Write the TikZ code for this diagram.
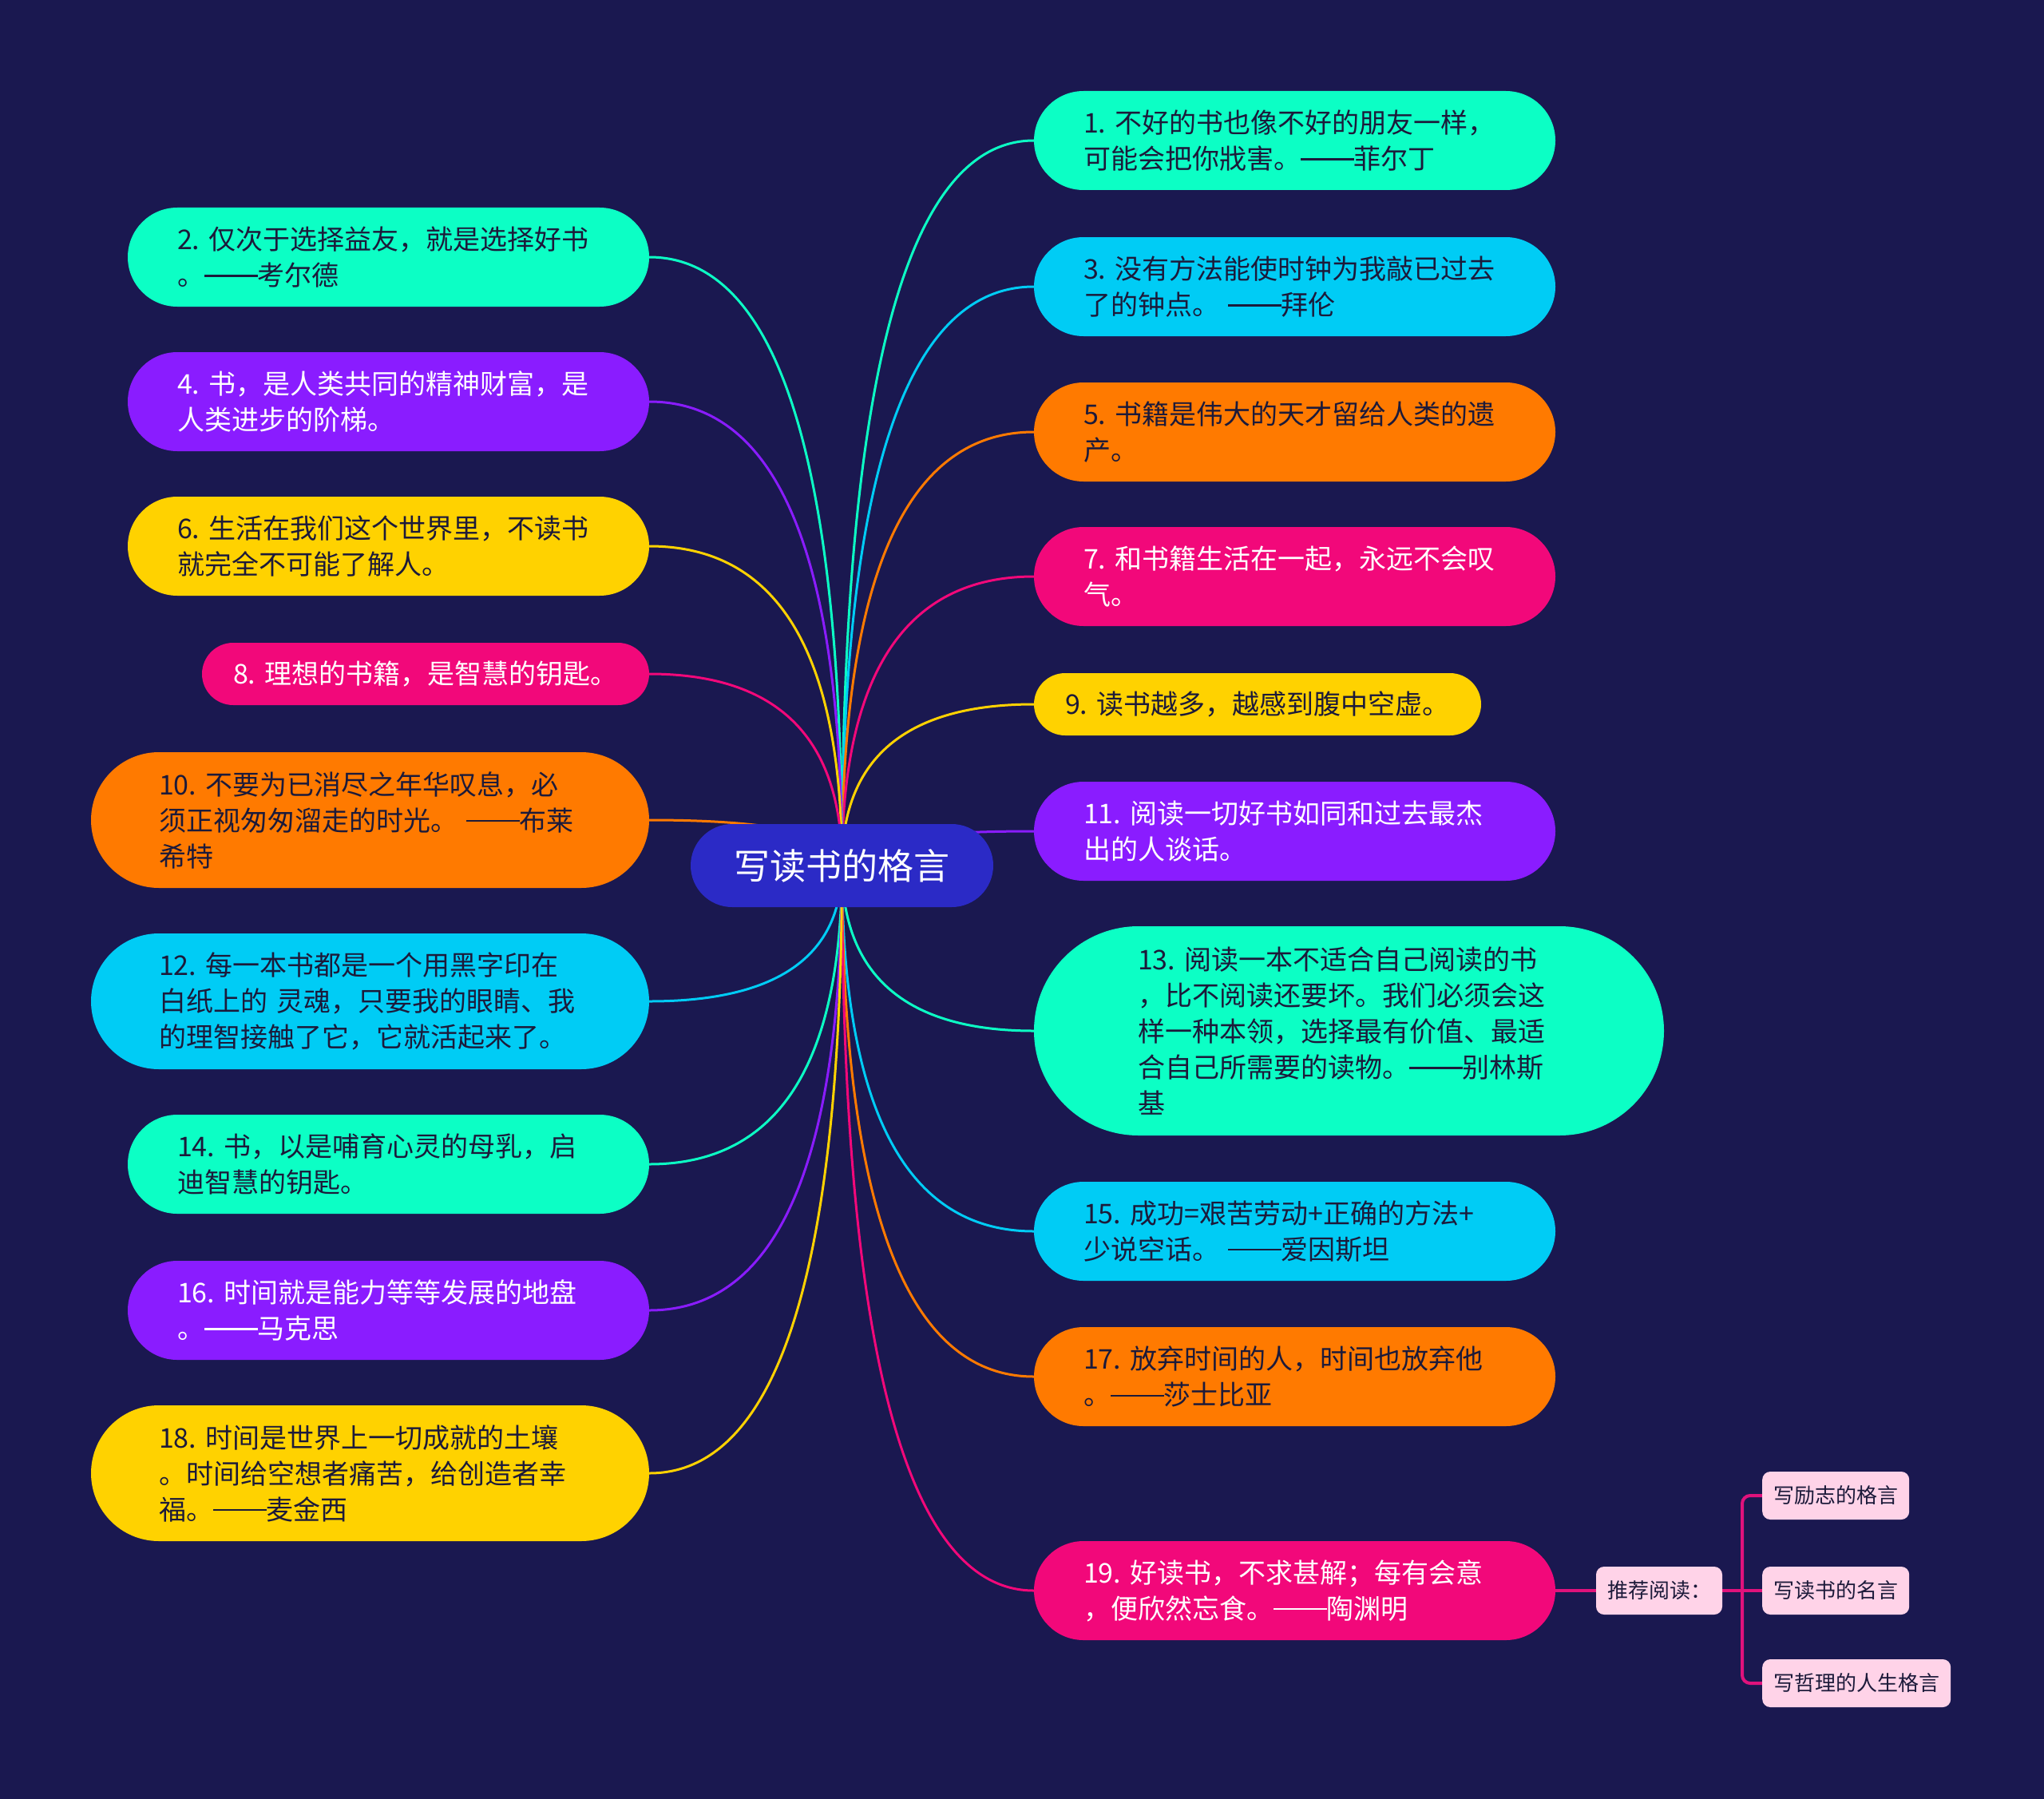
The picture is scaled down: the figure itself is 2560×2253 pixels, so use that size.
\documentclass[tikz,border=0pt]{standalone}
\usepackage{fontspec}
\setmainfont{Noto Sans CJK SC}
\usetikzlibrary{calc}
\definecolor{bgc}{HTML}{1A1850}
\definecolor{aqua}{HTML}{0CFFC5}
\definecolor{sky}{HTML}{00CCF5}
\definecolor{orng}{HTML}{FF7A00}
\definecolor{pnk}{HTML}{F2087A}
\definecolor{yel}{HTML}{FFD200}
\definecolor{purp}{HTML}{8A1CFF}
\definecolor{rootc}{HTML}{2B2AC6}
\definecolor{dark}{HTML}{1C1A3A}
\definecolor{subf}{HTML}{FFD3E8}
\definecolor{subl}{HTML}{E0127C}
\pgfdeclarelayer{back}
\pgfdeclarelayer{lines}
\pgfsetlayers{back,lines,main}
\frenchspacing
\newcommand{\dsh}{\rule[0.32em]{1.96em}{0.065em}}
\tikzset{
  qt/.style={font=\fontsize{34}{45}\selectfont\frenchspacing, align=left, inner ysep=0pt},
  twol/.style={qt, text width=529pt, inner xsep=62pt, minimum height=124pt, rounded corners=62pt},
  threel/.style={qt, text width=529pt, inner xsep=85pt, minimum height=170pt, rounded corners=85pt},
  fivel/.style={qt, text width=529pt, inner xsep=130pt, minimum height=262pt, rounded corners=131pt},
  onel/.style={qt, text width=482pt, inner xsep=39pt, minimum height=78pt, rounded corners=39pt},
  dk/.style={text=dark},
  wt/.style={text=white},
  conn/.style={line width=3pt},
  sub/.style={fill=subf, text=dark, font=\fontsize{26}{30}\selectfont, rounded corners=10pt, inner xsep=14pt, inner ysep=0pt, minimum height=60pt},
  subline/.style={draw=subl, line width=4pt},
}
\begin{document}
\begin{tikzpicture}[x=1pt,y=-1pt]
\begin{pgfonlayer}{back}
\fill[bgc] (0,0) rectangle (2560,2253);
\end{pgfonlayer}
\useasboundingbox (0,0) rectangle (2560,2253);

\node[fill=rootc, text=white, font=\fontsize{45}{50}\selectfont, minimum width=379pt, minimum height=104pt, rounded corners=52pt, inner sep=0pt] (root) at (1054.5,1084) {写读书的格言};

% right side
\node[twol, fill=aqua, dk] (n1) at (1621.5,176) {1. 不好的书也像不好的朋友一样，\\可能会把你戕害。\dsh 菲尔丁};
\node[twol, fill=sky, dk] (n3) at (1621.5,359) {3. 没有方法能使时钟为我敲已过去\\了的钟点。 \dsh 拜伦};
\node[twol, fill=orng, dk] (n5) at (1621.5,541) {5. 书籍是伟大的天才留给人类的遗\\产。};
\node[twol, fill=pnk, wt] (n7) at (1621.5,722) {7. 和书籍生活在一起，永远不会叹\\气。};
\node[onel, fill=yel, dk] (n9) at (1575,882) {9. 读书越多，越感到腹中空虚。};
\node[twol, fill=purp, wt] (n11) at (1621.5,1041) {11. 阅读一切好书如同和过去最杰\\出的人谈话。};
\node[fivel, fill=aqua, dk] (n13) at (1689.5,1291) {13. 阅读一本不适合自己阅读的书\\，比不阅读还要坏。我们必须会这\\样一种本领，选择最有价值、最适\\合自己所需要的读物。\dsh 别林斯\\基};
\node[twol, fill=sky, dk] (n15) at (1621.5,1542) {15. 成功=艰苦劳动+正确的方法+\\少说空话。 \dsh 爱因斯坦};
\node[twol, fill=orng, dk] (n17) at (1621.5,1724) {17. 放弃时间的人，时间也放弃他\\。\dsh 莎士比亚};
\node[twol, fill=pnk, wt] (n19) at (1621.5,1992) {19. 好读书，不求甚解；每有会意\\，便欣然忘食。\dsh 陶渊明};

% left side
\node[twol, fill=aqua, dk] (n2) at (486.5,322) {2. 仅次于选择益友，就是选择好书\\。\dsh 考尔德};
\node[twol, fill=purp, wt] (n4) at (486.5,503) {4. 书，是人类共同的精神财富，是\\人类进步的阶梯。};
\node[twol, fill=yel, dk] (n6) at (486.5,684) {6. 生活在我们这个世界里，不读书\\就完全不可能了解人。};
\node[onel, fill=pnk, wt] (n8) at (533,844) {8. 理想的书籍，是智慧的钥匙。};
\node[threel, fill=orng, dk] (n10) at (463.5,1027) {10. 不要为已消尽之年华叹息，必\\须正视匆匆溜走的时光。 \dsh 布莱\\希特};
\node[threel, fill=sky, dk] (n12) at (463.5,1254) {12. 每一本书都是一个用黑字印在\\白纸上的 灵魂，只要我的眼睛、我\\的理智接触了它，它就活起来了。};
\node[twol, fill=aqua, dk] (n14) at (486.5,1458) {14. 书，以是哺育心灵的母乳，启\\迪智慧的钥匙。};
\node[twol, fill=purp, wt] (n16) at (486.5,1641) {16. 时间就是能力等等发展的地盘\\。\dsh 马克思};
\node[threel, fill=yel, dk] (n18) at (463.5,1845) {18. 时间是世界上一切成就的土壤\\。时间给空想者痛苦，给创造者幸\\福。\dsh 麦金西};

% sub nodes
\node[sub] (tj) at (2078,1992) {推荐阅读：};
\node[sub, anchor=west] (s1) at (2207,1873) {写励志的格言};
\node[sub, anchor=west] (s2) at (2207,1992) {写读书的名言};
\node[sub, anchor=west] (s3) at (2207,2108) {写哲理的人生格言};
\coordinate (br) at (2182,1992);

\begin{pgfonlayer}{lines}
\foreach \nd/\cl/\an in {n1/aqua/west, n3/sky/west, n5/orng/west, n7/pnk/west, n9/yel/west, n11/purp/west, n13/aqua/west, n15/sky/west, n17/orng/west, n19/pnk/west, n2/aqua/east, n4/purp/east, n6/yel/east, n8/pnk/east, n10/orng/east, n12/sky/east, n14/aqua/east, n16/purp/east, n18/yel/east}{
  \draw[conn, draw=\cl] let \p1=(root.center), \p2=(\nd.\an) in
    (\p1) .. controls (\x1,{\y1+0.6667*(\y2-\y1)}) and ({\x2+0.6667*(\x1-\x2)},\y2) .. (\p2);
}
\draw[subline] (n19.east) -- (tj.west);
\draw[subline] (tj.east) -- (s2.west);
\draw[subline, rounded corners=10pt] (br) |- (s1.west);
\draw[subline, rounded corners=10pt] (br) |- (s3.west);
\end{pgfonlayer}
\end{tikzpicture}
\end{document}
